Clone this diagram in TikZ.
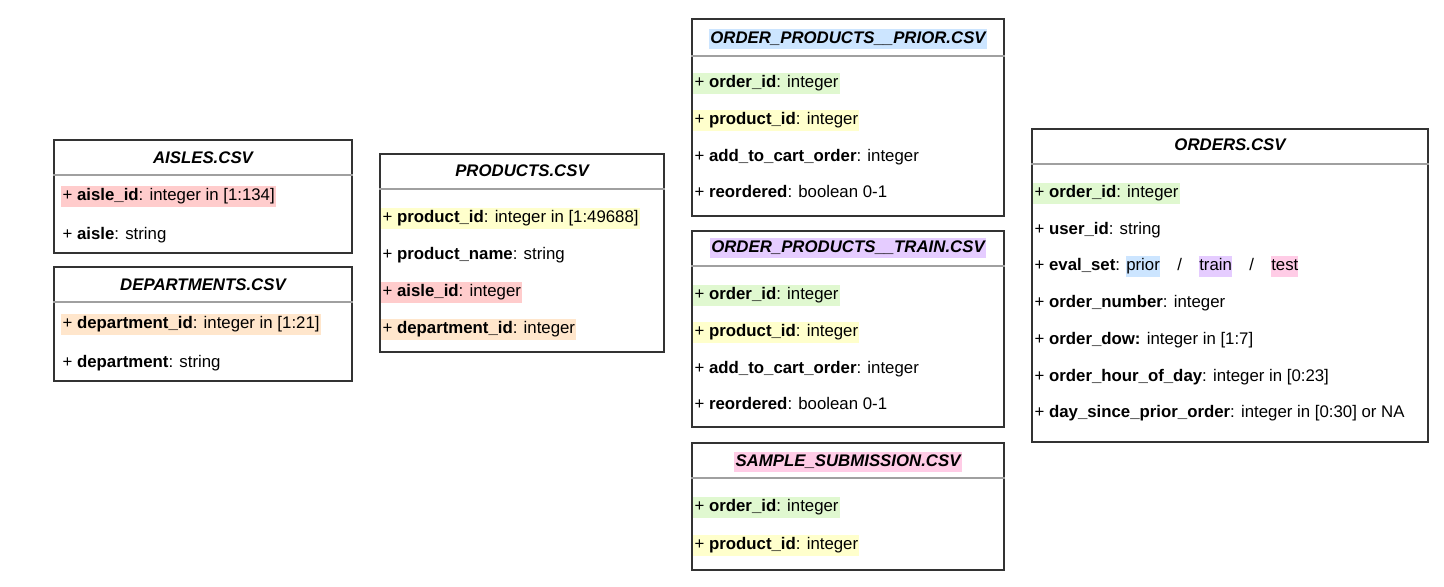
\documentclass[tikz,border=0pt]{standalone}
\usepackage{fontspec}
\setmainfont{Liberation Sans}
\usetikzlibrary{fit}
\definecolor{hlred}{HTML}{FFCCCC}
\definecolor{hlorange}{HTML}{FFE6CC}
\definecolor{hlyellow}{HTML}{FFFFCC}
\definecolor{hlgreen}{HTML}{E0F8D0}
\definecolor{hlblue}{HTML}{CCE5FF}
\definecolor{hlpurple}{HTML}{E5CCFF}
\definecolor{hlpink}{HTML}{FFCCE6}
\definecolor{frame}{HTML}{333333}
\definecolor{sepline}{HTML}{A0A0A0}
\newcommand\inlinehl[2]{{\setlength{\fboxsep}{0pt}\colorbox{#1}{\rule[-4.5pt]{0pt}{15.5pt}#2}}}
\begin{document}
\begin{tikzpicture}[x=0.75pt,y=-0.75pt,
 tbl/.style={draw=frame, line width=0.9pt, inner sep=0pt},
 divline/.style={draw=sepline, line width=1.1pt},
 title/.style={font=\fontsize{12.6}{15}\selectfont\bfseries\itshape, inner xsep=1pt, inner ysep=0pt, text height=10.5pt, text depth=3.8pt, yshift=-1.5pt},
 row/.style={font=\fontsize{12.6}{15}\selectfont, anchor=west, inner xsep=1pt, inner ysep=0pt, text height=11pt, text depth=4.5pt, yshift=-1.2pt},
]
\useasboundingbox (0,0) rectangle (1444,586);

% AISLES
\node[tbl, fit={(54,140)(352,253)}] (aisles) {};
\node[title] (aislesT) at (203,157) {AISLES.CSV};
\draw[divline] (aisles.west |- 0,175) -- (aisles.east |- 0,175);
\node[row, fill=hlred] (aisles1) at (61,195) {+ \textbf{aisle\_id}: integer in [1:134]};
\node[row] (aisles2) at (61,234) {+ \textbf{aisle}: string};

% DEPARTMENTS
\node[tbl, fit={(54,267)(352,381)}] (depts) {};
\node[title] (deptsT) at (203,284) {DEPARTMENTS.CSV};
\draw[divline] (depts.west |- 0,302) -- (depts.east |- 0,302);
\node[row, fill=hlorange] (depts1) at (61,323) {+ \textbf{department\_id}: integer in [1:21]};
\node[row] (depts2) at (61,362) {+ \textbf{department}: string};

% PRODUCTS
\node[tbl, fit={(380,154)(664,352)}] (prod) {};
\node[title] (prodT) at (522,170) {PRODUCTS.CSV};
\draw[divline] (prod.west |- 0,189) -- (prod.east |- 0,189);
\node[row, fill=hlyellow] (prod1) at (381,217) {+ \textbf{product\_id}: integer in [1:49688]};
\node[row] (prod2) at (381,254) {+ \textbf{product\_name}: string};
\node[row, fill=hlred] (prod3) at (381,291) {+ \textbf{aisle\_id}: integer};
\node[row, fill=hlorange] (prod4) at (381,328) {+ \textbf{department\_id}: integer};

% ORDER_PRODUCTS__PRIOR
\node[tbl, fit={(692,19)(1004,216)}] (prior) {};
\node[title, fill=hlblue] (priorT) at (848,37) {ORDER\_PRODUCTS\_\_PRIOR.CSV};
\draw[divline] (prior.west |- 0,56) -- (prior.east |- 0,56);
\node[row, fill=hlgreen] (prior1) at (693,82) {+ \textbf{order\_id}: integer};
\node[row, fill=hlyellow] (prior2) at (693,119) {+ \textbf{product\_id}: integer};
\node[row] (prior3) at (693,156) {+ \textbf{add\_to\_cart\_order}: integer};
\node[row] (prior4) at (693,192) {+ \textbf{reordered}: boolean 0-1};

% ORDER_PRODUCTS__TRAIN
\node[tbl, fit={(692,231)(1004,427)}] (train) {};
\node[title, fill=hlpurple] (trainT) at (848,246) {ORDER\_PRODUCTS\_\_TRAIN.CSV};
\draw[divline] (train.west |- 0,266) -- (train.east |- 0,266);
\node[row, fill=hlgreen] (train1) at (693,294) {+ \textbf{order\_id}: integer};
\node[row, fill=hlyellow] (train2) at (693,331) {+ \textbf{product\_id}: integer};
\node[row] (train3) at (693,368) {+ \textbf{add\_to\_cart\_order}: integer};
\node[row] (train4) at (693,404) {+ \textbf{reordered}: boolean 0-1};

% SAMPLE_SUBMISSION
\node[tbl, fit={(692,443)(1004,570)}] (sample) {};
\node[title, fill=hlpink] (sampleT) at (848,460) {SAMPLE\_SUBMISSION.CSV};
\draw[divline] (sample.west |- 0,478) -- (sample.east |- 0,478);
\node[row, fill=hlgreen] (sample1) at (693,506) {+ \textbf{order\_id}: integer};
\node[row, fill=hlyellow] (sample2) at (693,544) {+ \textbf{product\_id}: integer};

% ORDERS
\node[tbl, fit={(1032,129)(1428,442)}] (orders) {};
\node[title] (ordersT) at (1230,144) {ORDERS.CSV};
\draw[divline] (orders.west |- 0,164) -- (orders.east |- 0,164);
\node[row, fill=hlgreen] (orders1) at (1033,192) {+ \textbf{order\_id}: integer};
\node[row] (orders2) at (1033,229) {+ \textbf{user\_id}: string};
\node[row] (orders3) at (1033,265) {+ \textbf{eval\_set}: \inlinehl{hlblue}{prior}\hspace{13pt}/\hspace{13pt}\inlinehl{hlpurple}{train}\hspace{13pt}/\hspace{13pt}\inlinehl{hlpink}{test}};
\node[row] (orders4) at (1033,302) {+ \textbf{order\_number}: integer};
\node[row] (orders5) at (1033,339) {+ \textbf{order\_dow:} integer in [1:7]};
\node[row] (orders6) at (1033,376) {+ \textbf{order\_hour\_of\_day}: integer in [0:23]};
\node[row] (orders7) at (1033,412) {+ \textbf{day\_since\_prior\_order}: integer in [0:30] or NA};
\end{tikzpicture}
\end{document}
